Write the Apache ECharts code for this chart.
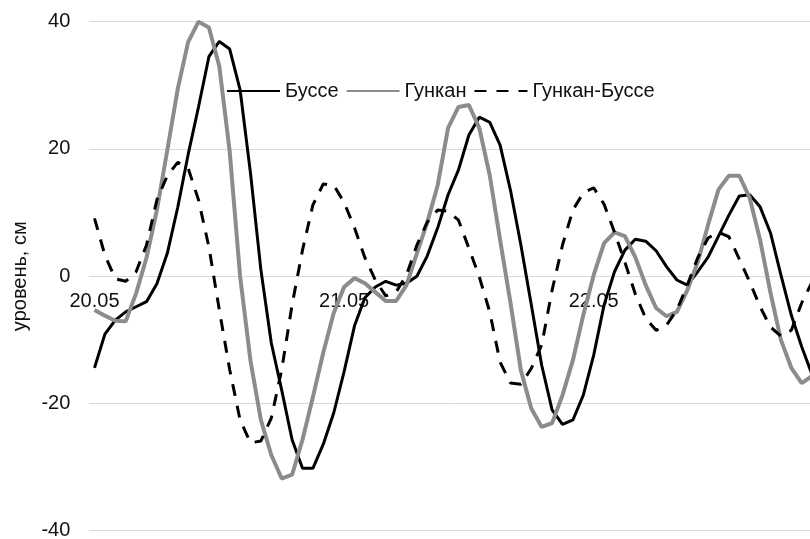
<!DOCTYPE html>
<html>
<head>
<meta charset="utf-8">
<script src="https://cdn.jsdelivr.net/npm/echarts@6/dist/echarts.min.js"></script>
<style>
html,body{margin:0;padding:0;background:#fff;}
#chart{width:810px;height:539px;}
</style>
</head>
<body>
<div id="chart"></div>
<script>
// Dates (one label every 24 hourly points)
const days = ['20.05', '21.05', '22.05'];
const hoursPerDay = 24;

// Буссе (black solid)
const busse = [
  -14.4, -9.1, -6.9, -5.6, -4.8, -4.0, -1.2, 3.6, 10.8, 19.1,
  26.6, 34.5, 36.9, 35.7, 29.3, 16.2, 1.0, -10.5, -17.9, -25.7,
  -30.2, -30.2, -26.4, -21.5, -15.0, -7.8, -3.4, -1.7, -0.8, -1.4,
  -1.1, 0.0, 3.2, 7.6, 12.8, 16.7, 22.2, 25.0, 24.2, 20.6,
  13.5, 4.9, -4.5, -14.0, -21.0, -23.3, -22.6, -18.7, -12.4, -4.5,
  0.7, 4.1, 5.8, 5.5, 4.0, 1.5, -0.6, -1.4, 0.7, 3.0,
  6.3, 9.6, 12.6, 12.8, 10.9, 6.8, 0.2, -6.1, -11.1, -15.5
];

// Гункан (gray solid)
const gunkan = [
  -5.3, -6.2, -7.0, -7.1, -2.7, 2.9, 10.4, 19.8, 29.4, 36.8,
  40.0, 39.1, 33.0, 19.6, 0.0, -13.3, -22.6, -28.1, -31.8, -31.2,
  -25.7, -19.0, -12.0, -5.8, -1.7, -0.3, -1.1, -2.5, -3.9, -3.9,
  -1.4, 3.6, 8.5, 14.3, 23.3, 26.6, 26.9, 23.3, 15.9, 5.7,
  -4.2, -14.8, -20.8, -23.7, -23.1, -18.7, -13.2, -6.1, 0.2, 5.2,
  6.9, 6.3, 3.0, -1.4, -5.0, -6.3, -5.6, -2.2, 2.2, 8.1,
  13.6, 15.8, 15.8, 12.3, 5.7, -2.6, -10.0, -14.4, -16.8, -15.7
];

// Гункан-Буссе (black dashed)
const diff = [
  9.1, 3.3, -0.4, -0.8, 0.7, 4.9, 12.0, 15.8, 17.9, 17.0,
  12.0, 4.6, -5.3, -14.7, -22.6, -26.2, -25.9, -22.3, -14.7, -4.5,
  4.1, 11.2, 14.5, 14.3, 11.6, 7.6, 2.9, -0.6, -3.1, -2.5,
  0.2, 4.9, 8.5, 10.4, 10.2, 8.8, 4.4, -0.1, -5.6, -13.5,
  -16.8, -17.0, -14.5, -10.8, -2.2, 4.9, 10.4, 13.1, 13.9, 11.3,
  6.9, 2.2, -2.8, -6.6, -8.5, -7.7, -5.3, -1.4, 2.9, 6.0,
  6.9, 6.2, 2.7, -0.9, -4.8, -8.0, -9.4, -8.5, -4.2, -0.9
];

const yTicks = { min: -40, max: 40, interval: 20 };

const categories = [];
days.forEach(d => { for (let h = 0; h < hoursPerDay; h++) categories.push(d + ' ' + h); });

const FONT = '"Liberation Sans", Arial, sans-serif';
const GRID_TOP = 21.7, GRID_H = 509;
const chart = echarts.init(document.getElementById('chart'), null, { renderer: 'canvas' });
chart.setOption({
  animation: false,
  backgroundColor: '#ffffff',
  textStyle: { fontFamily: FONT },
  grid: { left: 89.3, top: GRID_TOP, width: categories.length * 10.4, height: GRID_H,
          containLabel: false, outerBoundsMode: 'none' },
  legend: {
    left: 221, top: 76,
    itemWidth: 53, itemHeight: 14, itemGap: 7,
    itemStyle: { opacity: 0 },
    textStyle: { fontFamily: FONT, fontSize: 20, color: '#111' },
    data: ['Буссе', 'Гункан', 'Гункан-Буссе']
  },
  xAxis: {
    type: 'category',
    data: categories,
    boundaryGap: true,
    position: 'bottom',
    offset: -GRID_H / 2,
    axisLine: { onZero: false, lineStyle: { color: '#d9d9d9', width: 1 } },
    axisTick: { show: false },
    splitLine: { show: false },
    axisLabel: {
      interval: hoursPerDay - 1,
      margin: 15,
      fontFamily: FONT, fontSize: 20, color: '#111',
      formatter: v => v.split(' ')[0]
    }
  },
  yAxis: {
    type: 'value',
    min: yTicks.min, max: yTicks.max, interval: yTicks.interval,
    name: 'уровень, см',
    nameLocation: 'middle',
    nameGap: 59,
    nameTextStyle: { fontFamily: FONT, fontSize: 20, color: '#111' },
    axisLine: { show: false },
    axisTick: { show: false },
    splitLine: { lineStyle: { color: '#d9d9d9', width: 1 } },
    axisLabel: { margin: 19, fontFamily: FONT, fontSize: 20, color: '#111' }
  },
  series: [
    { name: 'Буссе', type: 'line', data: busse, symbol: 'none', smooth: false,
      lineStyle: { color: '#000', width: 3 }, itemStyle: { color: '#000' }, z: 3 },
    { name: 'Гункан', type: 'line', data: gunkan, symbol: 'none', smooth: false,
      lineStyle: { color: '#8c8c8c', width: 4 }, itemStyle: { color: '#8c8c8c' }, z: 4 },
    { name: 'Гункан-Буссе', type: 'line', data: diff, symbol: 'none', smooth: false,
      lineStyle: { color: '#000', width: 3, type: [12, 10], cap: 'butt' }, itemStyle: { color: '#000' }, z: 5 }
  ]
});
</script>
</body>
</html>
